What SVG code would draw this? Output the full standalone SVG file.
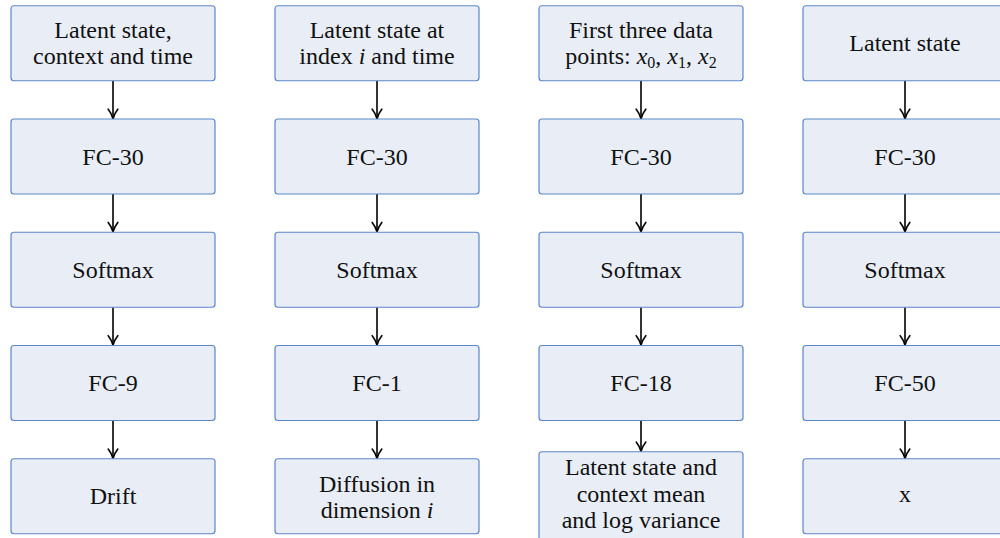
<svg xmlns="http://www.w3.org/2000/svg" width="1000" height="538" viewBox="0 0 1000 538">
<defs>
<style>
.box{fill:#e9eef6;stroke:#5b87c9;stroke-width:1.2}
.t{font-family:'Liberation Serif',serif;font-size:24px;fill:#111;text-anchor:middle}
.m{font-style:italic}
.s{font-size:16px}
.c{stroke:#000;stroke-width:1.6;fill:none}
</style>
<marker id="ah" markerUnits="userSpaceOnUse" markerWidth="14" markerHeight="14" viewBox="-11 -7 14 14" refX="0" refY="0" orient="auto" overflow="visible">
<path d="M-9,-4.8 C-5,-1.6 -1.5,-0.5 0.5,0 C-1.5,0.5 -5,1.6 -9,4.8" fill="none" stroke="#000" stroke-width="1.6" stroke-linecap="round" stroke-linejoin="round"/>
</marker>
</defs>
<rect width="1000" height="538" fill="#fff"/>

<g id="connectors">
<path class="c" marker-end="url(#ah)" d="M113,80.75V118.2"/>
<path class="c" marker-end="url(#ah)" d="M113,194V231.4"/>
<path class="c" marker-end="url(#ah)" d="M113,307.25V344.7"/>
<path class="c" marker-end="url(#ah)" d="M113,420.5V458"/>
<path class="c" marker-end="url(#ah)" d="M377,80.75V118.2"/>
<path class="c" marker-end="url(#ah)" d="M377,194V231.4"/>
<path class="c" marker-end="url(#ah)" d="M377,307.25V344.7"/>
<path class="c" marker-end="url(#ah)" d="M377,420.5V458"/>
<path class="c" marker-end="url(#ah)" d="M641,80.75V118.2"/>
<path class="c" marker-end="url(#ah)" d="M641,194V231.4"/>
<path class="c" marker-end="url(#ah)" d="M641,307.25V344.7"/>
<path class="c" marker-end="url(#ah)" d="M641,420.5V451"/>
<path class="c" marker-end="url(#ah)" d="M905,80.75V118.2"/>
<path class="c" marker-end="url(#ah)" d="M905,194V231.4"/>
<path class="c" marker-end="url(#ah)" d="M905,307.25V344.7"/>
<path class="c" marker-end="url(#ah)" d="M905,420.5V458"/>
</g>

<g font-family="'Liberation Serif', serif">
<!-- column 1 -->
<g id="c1r1"><rect class="box" x="11" y="5.75" width="204" height="75" rx="3"/><text class="t" x="113" y="37.7">Latent state,</text><text class="t" x="113" y="64">context and time</text></g>
<g id="c1r2"><rect class="box" x="11" y="119" width="204" height="75" rx="3"/><text class="t" x="113" y="164.5">FC-30</text></g>
<g id="c1r3"><rect class="box" x="11" y="232.25" width="204" height="75" rx="3"/><text class="t" x="113" y="277.75">Softmax</text></g>
<g id="c1r4"><rect class="box" x="11" y="345.5" width="204" height="75" rx="3"/><text class="t" x="113" y="391">FC-9</text></g>
<g id="c1r5"><rect class="box" x="11" y="458.75" width="204" height="75" rx="3"/><text class="t" x="113" y="504.25">Drift</text></g>

<!-- column 2 -->
<g id="c2r1"><rect class="box" x="275" y="5.75" width="204" height="75" rx="3"/><text class="t" x="377" y="37.7">Latent state at</text><text class="t" x="377" y="64">index <tspan class="m">i</tspan> and time</text></g>
<g id="c2r2"><rect class="box" x="275" y="119" width="204" height="75" rx="3"/><text class="t" x="377" y="164.5">FC-30</text></g>
<g id="c2r3"><rect class="box" x="275" y="232.25" width="204" height="75" rx="3"/><text class="t" x="377" y="277.75">Softmax</text></g>
<g id="c2r4"><rect class="box" x="275" y="345.5" width="204" height="75" rx="3"/><text class="t" x="377" y="391">FC-1</text></g>
<g id="c2r5"><rect class="box" x="275" y="458.75" width="204" height="75" rx="3"/><text class="t" x="377" y="491.5">Diffusion in</text><text class="t" x="377" y="517.7">dimension <tspan class="m">i</tspan></text></g>

<!-- column 3 -->
<g id="c3r1"><rect class="box" x="539" y="5.75" width="204" height="75" rx="3"/><text class="t" x="641" y="37.7">First three data</text><text class="t" x="641" y="64">points:  <tspan class="m">x</tspan><tspan class="s" dy="4">0</tspan><tspan dy="-4">, </tspan><tspan class="m">x</tspan><tspan class="s" dy="4">1</tspan><tspan dy="-4">, </tspan><tspan class="m">x</tspan><tspan class="s" dy="4">2</tspan></text></g>
<g id="c3r2"><rect class="box" x="539" y="119" width="204" height="75" rx="3"/><text class="t" x="641" y="164.5">FC-30</text></g>
<g id="c3r3"><rect class="box" x="539" y="232.25" width="204" height="75" rx="3"/><text class="t" x="641" y="277.75">Softmax</text></g>
<g id="c3r4"><rect class="box" x="539" y="345.5" width="204" height="75" rx="3"/><text class="t" x="641" y="391">FC-18</text></g>
<g id="c3r5"><rect class="box" x="539" y="451.75" width="204" height="89" rx="3"/><text class="t" x="641" y="475">Latent state and</text><text class="t" x="641" y="501.7">context mean</text><text class="t" x="641" y="528.3">and log variance</text></g>

<!-- column 4 -->
<g id="c4r1"><rect class="box" x="803" y="5.75" width="204" height="75" rx="3"/><text class="t" x="905" y="51.25">Latent state</text></g>
<g id="c4r2"><rect class="box" x="803" y="119" width="204" height="75" rx="3"/><text class="t" x="905" y="164.5">FC-30</text></g>
<g id="c4r3"><rect class="box" x="803" y="232.25" width="204" height="75" rx="3"/><text class="t" x="905" y="277.75">Softmax</text></g>
<g id="c4r4"><rect class="box" x="803" y="345.5" width="204" height="75" rx="3"/><text class="t" x="905" y="391">FC-50</text></g>
<g id="c4r5"><rect class="box" x="803" y="458.75" width="204" height="75" rx="3"/><text class="t" x="905" y="501.7">x</text></g>
</g>
</svg>
